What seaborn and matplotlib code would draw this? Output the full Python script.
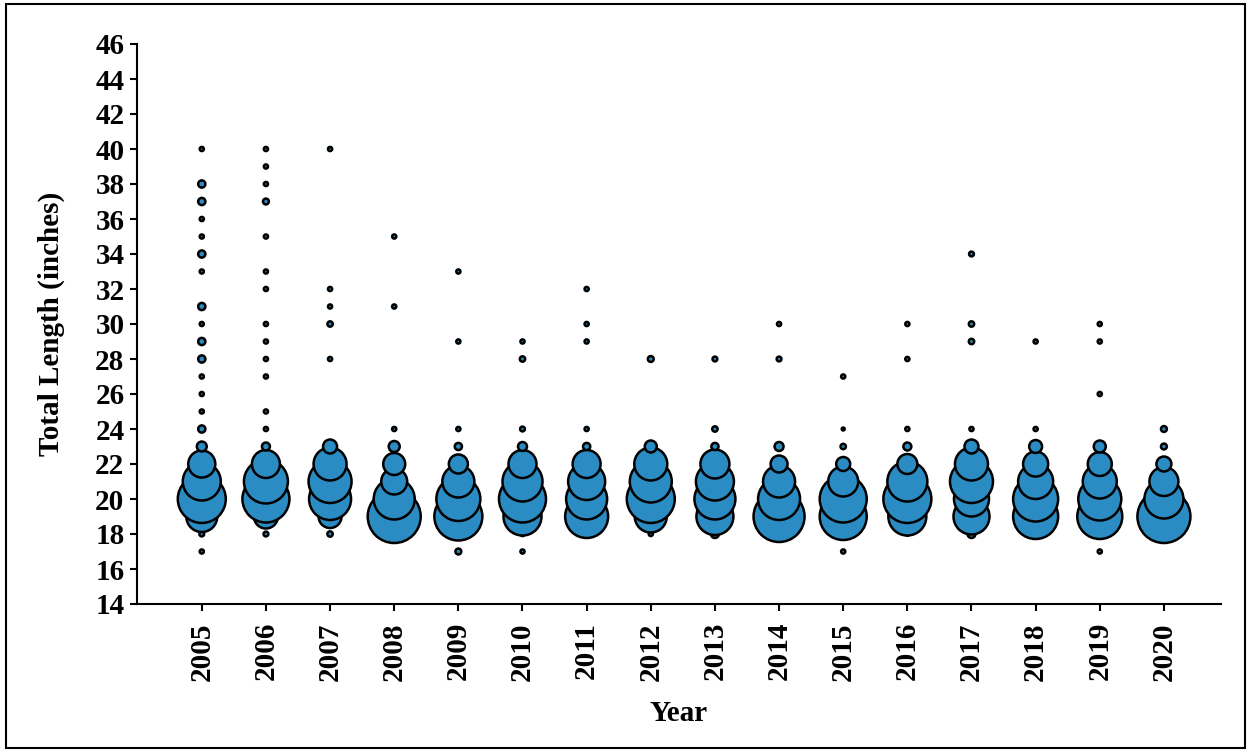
import matplotlib
matplotlib.use("Agg")
import matplotlib.pyplot as plt
from matplotlib.patches import Rectangle
import seaborn as sns
import pandas as pd

# Length-frequency by year: share of fish (%) at each total length (inches)
year = (
    [2005] * 22 + [2006] * 19 + [2007] * 11 + [2008] * 8 + [2009] * 9 + [2010] * 10
    + [2011] * 10 + [2012] * 7 + [2013] * 8 + [2014] * 7 + [2015] * 8 + [2016] * 9
    + [2017] * 10 + [2018] * 8 + [2019] * 9 + [2020] * 6
)
length = [
    17, 18, 19, 20, 21, 22, 23, 24, 25, 26, 27, 28, 29, 30, 31, 33, 34, 35, 36, 37, 38, 40,  # 2005
    18, 19, 20, 21, 22, 23, 24, 25, 27, 28, 29, 30, 32, 33, 35, 37, 38, 39, 40,              # 2006
    18, 19, 20, 21, 22, 23, 28, 30, 31, 32, 40,                                              # 2007
    19, 20, 21, 22, 23, 24, 31, 35,                                                          # 2008
    17, 19, 20, 21, 22, 23, 24, 29, 33,                                                      # 2009
    17, 18, 19, 20, 21, 22, 23, 24, 28, 29,                                                  # 2010
    18, 19, 20, 21, 22, 23, 24, 29, 30, 32,                                                  # 2011
    18, 19, 20, 21, 22, 23, 28,                                                              # 2012
    18, 19, 20, 21, 22, 23, 24, 28,                                                          # 2013
    19, 20, 21, 22, 23, 28, 30,                                                              # 2014
    17, 19, 20, 21, 22, 23, 24, 27,                                                          # 2015
    18, 19, 20, 21, 22, 23, 24, 28, 30,                                                      # 2016
    18, 19, 20, 21, 22, 23, 24, 29, 30, 34,                                                  # 2017
    18, 19, 20, 21, 22, 23, 24, 29,                                                          # 2018
    17, 19, 20, 21, 22, 23, 26, 29, 30,                                                      # 2019
    19, 20, 21, 22, 23, 24,                                                                  # 2020
]
percent = [
    0.3, 0.4, 16.7, 40.0, 25.1, 12.7, 1.7, 0.9, 0.3, 0.3, 0.3, 0.9, 0.9, 0.3, 0.9, 0.3, 0.9, 0.3, 0.3, 0.9, 0.9, 0.3,
    0.4, 10.0, 38.4, 33.6, 13.6, 1.1, 0.3, 0.3, 0.3, 0.3, 0.3, 0.3, 0.3, 0.3, 0.3, 0.6, 0.3, 0.3, 0.3,
    0.5, 9.2, 30.6, 32.1, 18.9, 3.4, 0.3, 0.5, 0.3, 0.3, 0.3,
    48.8, 29.2, 11.7, 8.4, 2.1, 0.3, 0.3, 0.3,
    0.6, 40.0, 33.6, 17.8, 6.3, 0.9, 0.3, 0.3, 0.3,
    0.3, 0.3, 25.1, 38.4, 27.8, 13.6, 1.4, 0.4, 0.5, 0.3,
    0.3, 32.1, 29.2, 23.8, 13.6, 0.9, 0.3, 0.3, 0.3, 0.3,
    0.3, 17.8, 40.0, 30.6, 18.9, 2.5, 0.6,
    1.1, 23.8, 29.2, 25.1, 14.6, 0.9, 0.5, 0.4,
    45.2, 30.6, 17.8, 5.0, 1.4, 0.4, 0.3,
    0.3, 38.4, 38.4, 15.6, 3.4, 0.5, 0.15, 0.3,
    0.2, 25.1, 40.0, 27.8, 6.9, 1.1, 0.3, 0.3, 0.3,
    1.1, 22.5, 21.3, 32.1, 18.9, 3.4, 0.3, 0.5, 0.5, 0.4,
    0.3, 35.2, 35.2, 21.3, 10.9, 2.9, 0.3, 0.3,
    0.3, 35.2, 32.1, 20.1, 10.0, 2.5, 0.3, 0.3, 0.3,
    48.8, 26.4, 14.6, 3.9, 0.6, 0.6,
]
years = list(range(2005, 2021))
y_ticks = list(range(14, 47, 2))

df = pd.DataFrame({"Year": year, "Length": length, "Percent": percent})

sns.set_theme(style="white")
plt.rcParams["font.family"] = ["Liberation Serif", "DejaVu Serif"]
plt.rcParams["font.weight"] = "bold"
plt.rcParams["text.color"] = "black"
plt.rcParams["axes.labelcolor"] = "black"

fig = plt.figure(figsize=(12.51, 7.52), dpi=100)
ax = fig.add_axes([137 / 1251, 1 - 604 / 752, (1221 - 137) / 1251, (604 - 44) / 752])

sns.scatterplot(
    data=df, x="Year", y="Length", size="Percent",
    sizes=(0, 1493), size_norm=(0, 50),
    color="#2B8CC4", edgecolor="black", linewidth=1.8,
    legend=False, ax=ax, zorder=3,
)

ax.set_xlim(2003.99, 2020.89)
ax.set_ylim(14, 46)
ax.set_xticks(years)
ax.set_xticklabels([str(y) for y in years], rotation=90, fontsize=21, fontweight="bold")
ax.set_yticks(y_ticks)
ax.set_yticklabels([str(v) for v in y_ticks], fontsize=21, fontweight="bold")

for side in ("top", "right"):
    ax.spines[side].set_visible(False)
for side in ("left", "bottom"):
    ax.spines[side].set_color("black")
    ax.spines[side].set_linewidth(1.5)
ax.tick_params(axis="both", direction="out", length=5, width=1.5, color="black",
               left=True, bottom=True, labelcolor="black")
ax.tick_params(axis="x", pad=8)
ax.tick_params(axis="y", pad=4)
ax.grid(False)

ax.set_xlabel("Year", fontsize=21, fontweight="bold", color="black", labelpad=14)
ax.set_ylabel("Total Length (inches)", fontsize=21, fontweight="bold", color="black", labelpad=22)

fig.patches.append(Rectangle((6 / 1251, 4 / 752), 1239 / 1251, 744 / 752,
                             transform=fig.transFigure, fill=False,
                             edgecolor="black", linewidth=1.5))

fig.savefig("out.png", dpi=100)
